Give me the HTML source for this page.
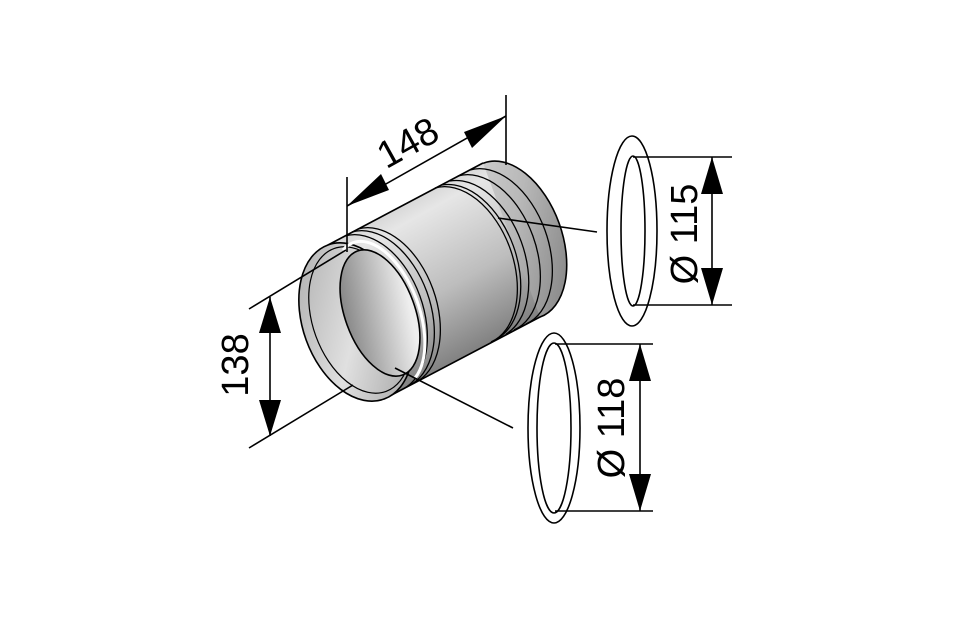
<!DOCTYPE html>
<html><head><meta charset="utf-8"><style>
html,body{margin:0;padding:0;background:#fff;}
svg{display:block;}
text{font-family:"Liberation Sans",sans-serif;fill:#000;}
</style></head><body>
<svg width="960" height="640" viewBox="0 0 960 640" xmlns="http://www.w3.org/2000/svg">
<defs>
<linearGradient id="body" x1="0" y1="0" x2="0.5" y2="1">
<stop offset="0" stop-color="#9a9a9a"/>
<stop offset="0.35" stop-color="#e6e6e6"/>
<stop offset="0.65" stop-color="#bdbdbd"/>
<stop offset="1" stop-color="#6e6e6e"/>
</linearGradient>
<linearGradient id="back" x1="0" y1="0" x2="1" y2="1">
<stop offset="0" stop-color="#dcdcdc"/>
<stop offset="0.5" stop-color="#b8b8b8"/>
<stop offset="1" stop-color="#7a7a7a"/>
</linearGradient>
<linearGradient id="rim" x1="0" y1="0" x2="1" y2="1">
<stop offset="0" stop-color="#a8a8a8"/>
<stop offset="0.5" stop-color="#e0e0e0"/>
<stop offset="1" stop-color="#9a9a9a"/>
</linearGradient>
<linearGradient id="inner" x1="0" y1="0" x2="1" y2="0.3">
<stop offset="0" stop-color="#7a7a7a"/>
<stop offset="0.5" stop-color="#b4b4b4"/>
<stop offset="1" stop-color="#eeeeee"/>
</linearGradient>
</defs>

<g stroke="#000" stroke-width="1.6">
<ellipse cx="512" cy="240" rx="50" ry="82" transform="rotate(-20 512 240)" fill="url(#back)"/>
<polygon points="328,245 483,163 540,317 384,399" fill="url(#body)" stroke="none"/>
<line x1="328" y1="245" x2="483" y2="163"/>
<line x1="384" y1="399" x2="540" y2="317"/>
<g fill="none" stroke-width="1.3">
<path d="M345,236 A52 82 -20 0 1 401,390"/>
<path d="M352,232 A52 82 -20 0 1 408,386"/>
<path d="M358,229 A52 82 -20 0 1 414,383"/>
<path d="M435,188 A52 82 -20 0 1 491,342"/>
<path d="M442,185 A52 82 -20 0 1 498,338"/>
<path d="M450,181 A52 82 -20 0 1 506,334"/>
<path d="M458,176 A52 82 -20 0 1 514,330"/>
<path d="M470,170 A52 82 -20 0 1 526,324"/>
</g>
<ellipse cx="356" cy="322" rx="53" ry="82" transform="rotate(-20 356 322)" fill="url(#rim)"/>
<ellipse cx="360" cy="320" rx="47" ry="76" transform="rotate(-20 360 320)" fill="none" stroke-width="1.2"/>
<ellipse cx="380" cy="313" rx="35" ry="66" transform="rotate(-20 380 313)" fill="url(#inner)"/>
<path d="M343,250 A35 66 -20 0 1 415,378" fill="none" stroke="#fff" stroke-width="3"/>

<ellipse cx="632" cy="231" rx="25" ry="95" fill="none"/>
<ellipse cx="633" cy="231" rx="12" ry="75" fill="none"/>
<ellipse cx="554" cy="428" rx="26" ry="95" fill="none"/>
<ellipse cx="554" cy="428" rx="17" ry="85" fill="none"/>

<line x1="498" y1="218" x2="597" y2="232"/>
<line x1="395" y1="368" x2="513" y2="428"/>

<line x1="347" y1="177" x2="347" y2="252"/>
<line x1="506" y1="95" x2="506" y2="165"/>
<line x1="347" y1="206" x2="506" y2="116"/>
<line x1="249" y1="309" x2="346" y2="250"/>
<line x1="249" y1="448" x2="353" y2="385"/>
<line x1="270" y1="297" x2="270" y2="436"/>
<line x1="633" y1="157" x2="732" y2="157"/>
<line x1="633" y1="305" x2="732" y2="305"/>
<line x1="712" y1="157" x2="712" y2="305"/>
<line x1="555" y1="344" x2="653" y2="344"/>
<line x1="555" y1="511" x2="653" y2="511"/>
<line x1="640" y1="344" x2="640" y2="511"/>
</g>

<g fill="#000">
<polygon points="347,206 381,174 389,190"/>
<polygon points="506,116 472,148 464,132"/>
<polygon points="270,297 259,333 281,333"/>
<polygon points="270,436 259,400 281,400"/>
<polygon points="712,157 701,194 723,194"/>
<polygon points="712,305 701,268 723,268"/>
<polygon points="640,344 629,381 651,381"/>
<polygon points="640,511 629,474 651,474"/>
</g>

<text x="0" y="0" font-size="38" text-anchor="middle" transform="translate(414,154) rotate(-29)">148</text>
<text x="0" y="0" font-size="38" text-anchor="middle" transform="translate(248,365) rotate(-90)">138</text>
<text x="0" y="0" font-size="38" text-anchor="middle" transform="translate(697,234) rotate(-90)">Ø 115</text>
<text x="0" y="0" font-size="38" text-anchor="middle" transform="translate(624,428) rotate(-90)">Ø 118</text>
</svg>
</body></html>
